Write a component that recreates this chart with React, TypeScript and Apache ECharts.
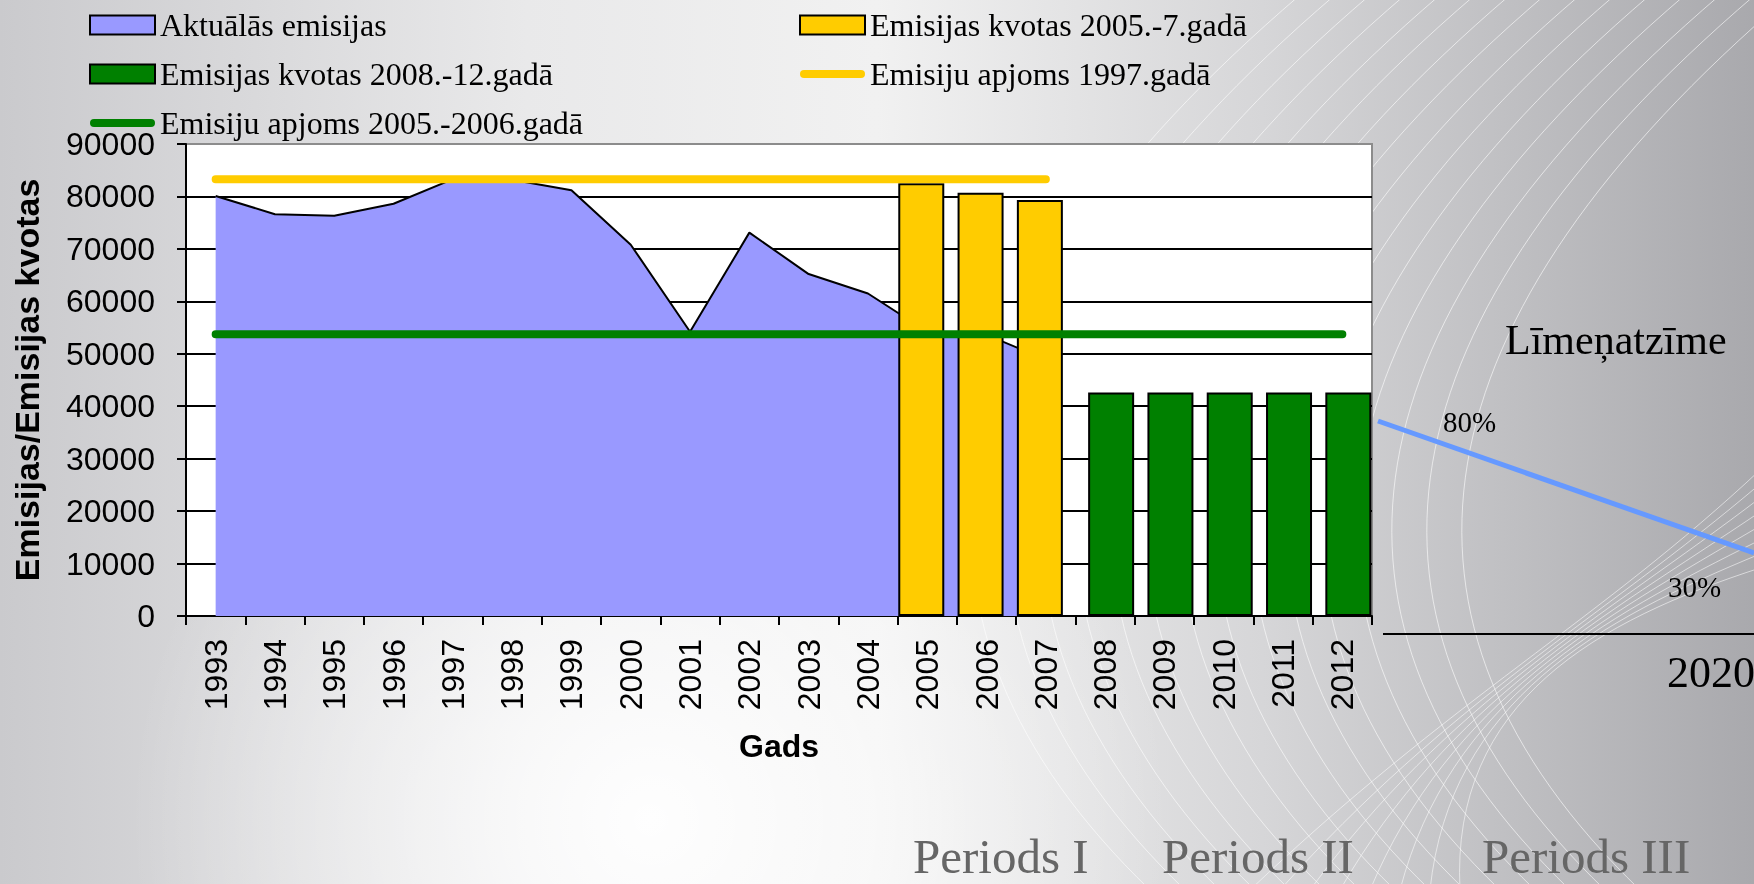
import React, { useEffect, useRef } from 'react';
import * as echarts from 'echarts';

// ---- data ----
const years = ['1993', '1994', '1995', '1996', '1997', '1998', '1999', '2000', '2001', '2002', '2003', '2004', '2005', '2006', '2007', '2008', '2009', '2010', '2011', '2012'];
const actualEmissions = [80100, 76600, 76300, 78600, 83300, 83200, 81200, 70800, 54200, 73100, 65200, 61500, 54200, 53600, 48900, null, null, null, null, null];
const quota2005_2007 = [null, null, null, null, null, null, null, null, null, null, null, null, 82500, 80700, 79300, null, null, null, null, null];
const quota2008_2012 = [null, null, null, null, null, null, null, null, null, null, null, null, null, null, null, 42600, 42600, 42600, 42600, 42600];
const level1997 = [83300, 83300, 83300, 83300, 83300, 83300, 83300, 83300, 83300, 83300, 83300, 83300, 83300, 83300, 83300, null, null, null, null, null];
const level2005_2006 = [53700, 53700, 53700, 53700, 53700, 53700, 53700, 53700, 53700, 53700, 53700, 53700, 53700, 53700, 53700, 53700, 53700, 53700, 53700, 53700];

const seriesNames = [
  'Aktuālās emisijas',
  'Emisijas kvotas 2005.-7.gadā',
  'Emisijas kvotas 2008.-12.gadā',
  'Emisiju apjoms 1997.gadā',
  'Emisiju apjoms 2005.-2006.gadā',
];
const yAxisTitle = 'Emisijas/Emisijas kvotas';
const xAxisTitle = 'Gads';
const sideTexts = ['Līmeņatzīme', '80%', '30%', '2020'];
const periodTexts = ['Periods I', 'Periods II', 'Periods III'];

// decorative background swirl anchors (not data)
const swirlTopStarts = [1300, 1335, 1370, 1405, 1440, 1475, 1510, 1545, 1580, 1615, 1650, 1685, 1720, 1755, 1790];
const swirlBottomStarts = [1250, 1280, 1310, 1340, 1370, 1400, 1430, 1460];

const AREA = '#9999FF';
const YELLOW = '#FFCC00';
const GREEN = '#008000';
const SANS = '"Liberation Sans", Arial, sans-serif';
const SERIF = '"Liberation Serif", "Times New Roman", serif';
const PILL = 'path://M4,0 H61 A4,4 0 0 1 61,8 H4 A4,4 0 0 1 4,0 Z';

export default function App() {
  const ref = useRef<HTMLDivElement>(null);

  useEffect(() => {
    if (!ref.current) return;
    const chart = echarts.init(ref.current, null, { renderer: 'svg' });

    const legendText = { fontFamily: SERIF, fontSize: 32, lineHeight: 31, color: '#000' };
    const legendBase = {
      orient: 'vertical',
      top: 9,
      padding: 0,
      itemWidth: 65,
      itemHeight: 19,
      itemGap: 17,
      selectedMode: false,
      textStyle: legendText,
    };

    const swirls: any[] = [];
    swirlTopStarts.forEach((s) => {
      swirls.push({
        type: 'bezierCurve', z: -18, silent: true,
        shape: { x1: s, y1: -5, cpx1: s - 380, cpy1: 320, cpx2: s - 430, cpy2: 620, x2: s - 150, y2: 890 },
        style: { stroke: 'rgba(255,255,255,0.6)', lineWidth: 1, fill: 'none' },
      });
    });
    swirlBottomStarts.forEach((s, k) => {
      swirls.push({
        type: 'bezierCurve', z: -18, silent: true,
        shape: { x1: s, y1: 890, cpx1: 1450, cpy1: 700, cpx2: 1600, cpy2: 620, x2: 1760, y2: 470 + 14 * k },
        style: { stroke: 'rgba(255,255,255,0.55)', lineWidth: 1, fill: 'none' },
      });
    });

    const option: any = {
      animation: false,
      backgroundColor: 'transparent',
      graphic: [
        {
          type: 'rect', z: -20, silent: true,
          shape: { x: 0, y: 0, width: 1754, height: 884 },
          style: {
            fill: new echarts.graphic.LinearGradient(0, 0, 1, 0, [
              { offset: 0, color: '#cacacd' },
              { offset: 0.3, color: '#e9e9ea' },
              { offset: 0.5, color: '#f1f1f1' },
              { offset: 0.72, color: '#d6d6d8' },
              { offset: 1, color: '#a9a9ad' },
            ]),
          },
        },
        {
          type: 'rect', z: -19, silent: true,
          shape: { x: 0, y: 0, width: 1754, height: 884 },
          style: {
            fill: new echarts.graphic.RadialGradient(650, 820, 520, [
              { offset: 0, color: 'rgba(255,255,255,0.95)' },
              { offset: 1, color: 'rgba(255,255,255,0)' },
            ], true),
          },
        },
        ...swirls,
        {
          type: 'text', z: 10, silent: true,
          style: { text: sideTexts[0], x: 1505, y: 340, font: '42px ' + SERIF, fill: '#000', textAlign: 'left', textVerticalAlign: 'middle' },
        },
        {
          type: 'text', z: 10, silent: true,
          style: { text: sideTexts[1], x: 1443, y: 422, font: '29px ' + SERIF, fill: '#000', textAlign: 'left', textVerticalAlign: 'middle' },
        },
        {
          type: 'text', z: 10, silent: true,
          style: { text: sideTexts[2], x: 1668, y: 587, font: '29px ' + SERIF, fill: '#000', textAlign: 'left', textVerticalAlign: 'middle' },
        },
        {
          type: 'text', z: 10, silent: true,
          style: { text: sideTexts[3], x: 1667, y: 672, font: '44px ' + SERIF, fill: '#000', textAlign: 'left', textVerticalAlign: 'middle' },
        },
        {
          type: 'line', z: 10, silent: true,
          shape: { x1: 1378, y1: 421, x2: 1754, y2: 553 },
          style: { stroke: '#6699FF', lineWidth: 5 },
        },
        {
          type: 'line', z: 10, silent: true,
          shape: { x1: 1383, y1: 634, x2: 1754, y2: 634 },
          style: { stroke: '#000', lineWidth: 2 },
        },
        {
          type: 'text', z: 10, silent: true,
          style: { text: periodTexts[0], x: 913, y: 856, font: '49px ' + SERIF, fill: '#666666', textAlign: 'left', textVerticalAlign: 'middle' },
        },
        {
          type: 'text', z: 10, silent: true,
          style: { text: periodTexts[1], x: 1162, y: 856, font: '49px ' + SERIF, fill: '#666666', textAlign: 'left', textVerticalAlign: 'middle' },
        },
        {
          type: 'text', z: 10, silent: true,
          style: { text: periodTexts[2], x: 1482, y: 856, font: '49px ' + SERIF, fill: '#666666', textAlign: 'left', textVerticalAlign: 'middle' },
        },
      ],
      legend: [
        {
          ...legendBase,
          left: 89,
          data: [
            { name: seriesNames[0], icon: 'rect', itemStyle: { color: AREA, borderColor: '#000', borderWidth: 2 } },
            { name: seriesNames[2], icon: 'rect', itemStyle: { color: GREEN, borderColor: '#000', borderWidth: 2 } },
            { name: seriesNames[4], icon: PILL, itemStyle: { color: GREEN, borderWidth: 0 } },
          ],
        },
        {
          ...legendBase,
          left: 799,
          data: [
            { name: seriesNames[1], icon: 'rect', itemStyle: { color: YELLOW, borderColor: '#000', borderWidth: 2 } },
            { name: seriesNames[3], icon: PILL, itemStyle: { color: YELLOW, borderWidth: 0 } },
          ],
        },
      ],
      grid: {
        left: 186,
        right: 382,
        top: 144,
        bottom: 268,
        show: true,
        backgroundColor: '#ffffff',
        borderColor: '#8c8c8c',
        borderWidth: 2,
        containLabel: false,
      },
      xAxis: {
        type: 'category',
        data: years,
        boundaryGap: true,
        axisLine: { show: true, lineStyle: { color: '#000', width: 2 } },
        axisTick: { show: true, interval: 0, alignWithLabel: false, length: 9, lineStyle: { color: '#000', width: 2 } },
        axisLabel: { interval: 0, rotate: 90, margin: 23, fontFamily: SANS, fontSize: 32, color: '#000' },
        splitLine: { show: false },
        name: xAxisTitle,
        nameLocation: 'middle',
        nameGap: 114,
        nameTextStyle: { fontFamily: SANS, fontSize: 32, fontWeight: 'bold', color: '#000' },
      },
      yAxis: {
        type: 'value',
        min: 0,
        max: 90000,
        interval: 10000,
        axisLine: { show: true, lineStyle: { color: '#000', width: 2 } },
        axisTick: { show: true, inside: false, length: 9, lineStyle: { color: '#000', width: 2 } },
        axisLabel: { margin: 31, fontFamily: SANS, fontSize: 32, color: '#000', formatter: (v: number) => String(v) },
        splitLine: { show: true, showMaxLine: false, lineStyle: { color: '#000', width: 2 } },
        name: yAxisTitle,
        nameLocation: 'middle',
        nameGap: 142,
        nameTextStyle: { fontFamily: SANS, fontSize: 34, fontWeight: 'bold', color: '#000' },
      },
      series: [
        {
          name: seriesNames[0],
          type: 'line',
          data: actualEmissions,
          symbol: 'none',
          z: 2,
          lineStyle: { color: '#000', width: 2 },
          itemStyle: { color: AREA },
          areaStyle: { color: AREA, opacity: 1 },
        },
        {
          name: seriesNames[1],
          type: 'bar',
          data: quota2005_2007,
          barWidth: 46,
          barGap: '-74%',
          z: 3,
          itemStyle: { color: YELLOW, borderColor: '#000', borderWidth: 2 },
        },
        {
          name: seriesNames[2],
          type: 'bar',
          data: quota2008_2012,
          barWidth: 46,
          barGap: '-74%',
          z: 3,
          itemStyle: { color: GREEN, borderColor: '#000', borderWidth: 2 },
        },
        {
          name: seriesNames[3],
          type: 'line',
          data: level1997,
          symbol: 'none',
          z: 4,
          itemStyle: { color: YELLOW },
          lineStyle: { color: YELLOW, width: 8, cap: 'round' },
        },
        {
          name: seriesNames[4],
          type: 'line',
          data: level2005_2006,
          symbol: 'none',
          z: 4,
          itemStyle: { color: GREEN },
          lineStyle: { color: GREEN, width: 8, cap: 'round' },
        },
      ],
    };

    chart.setOption(option);
    return () => chart.dispose();
  }, []);

  return (
    <div
      ref={ref}
      style={{ position: 'fixed', left: 0, top: 0, width: 1754, height: 884 }}
    />
  );
}
